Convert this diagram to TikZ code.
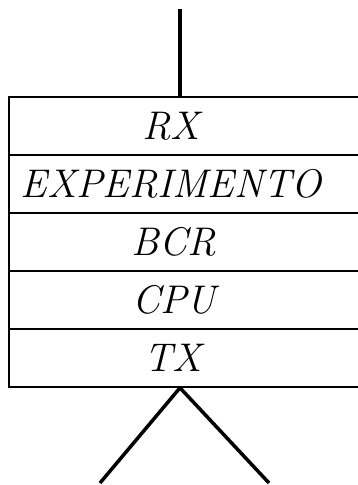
\documentclass[tikz,border=0pt]{standalone}
\begin{document}
\begin{tikzpicture}[x=1pt,y=-1pt,
  row/.style={draw, line width=1.6pt, minimum width=354pt, minimum height=58pt,
    inner sep=0pt, font=\fontsize{40}{42}\selectfont\itshape},
  wire/.style={line width=3.5pt}]
\useasboundingbox (0,0) rectangle (357,485);
\node[row] (rx)  at (186,126) {\hspace*{-30pt}RX};
\node[row] (exp) at (186,184) {\hspace*{-30pt}EXPERIMENTO};
\node[row] (bcr) at (186,242) {\hspace*{-24pt}BCR};
\node[row] (cpu) at (186,300) {\hspace*{-24pt}CPU};
\node[row] (tx)  at (186,358) {\hspace*{-26pt}TX};
\coordinate (top) at (180,9);
\coordinate (apex) at (180,387);
\coordinate (l) at (100,483);
\coordinate (r) at (269,483);
\draw[wire] (top) -- (top |- rx.north);
\draw[wire] (apex |- tx.south) -- (l);
\draw[wire] (apex |- tx.south) -- (r);
\end{tikzpicture}
\end{document}
